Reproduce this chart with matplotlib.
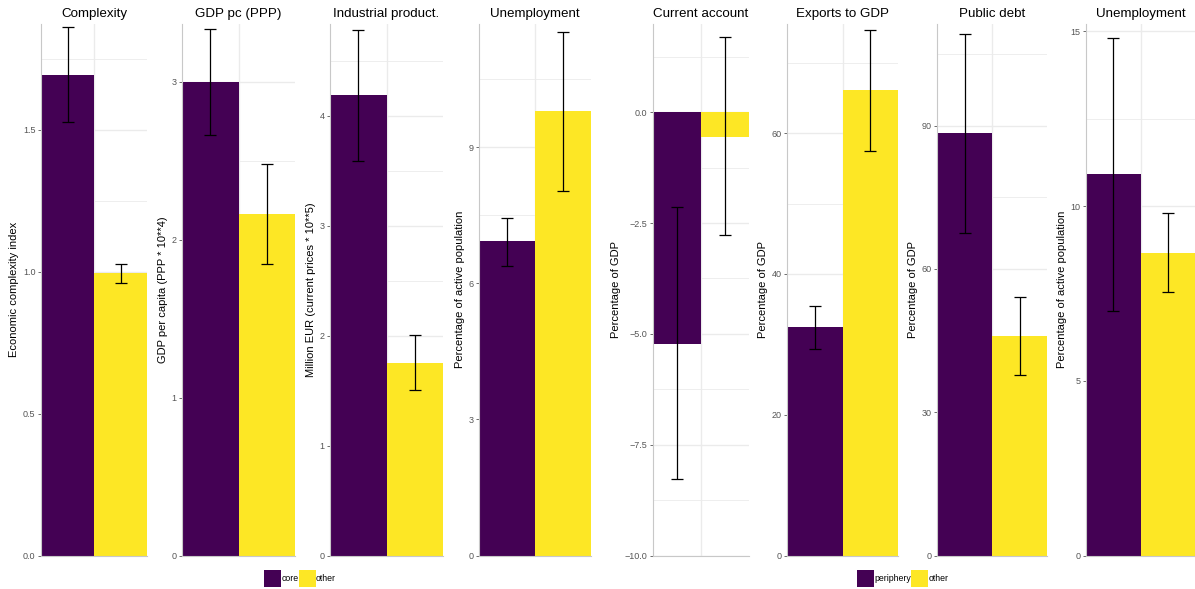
import matplotlib.pyplot as plt
import numpy as np
from matplotlib.patches import Patch

plt.rcParams['font.family'] = ['Liberation Sans', 'DejaVu Sans']

# Panel titles and y axis labels
titles = ['Complexity', 'GDP pc (PPP)', 'Industrial product.', 'Unemployment',
          'Current account', 'Exports to GDP', 'Public debt', 'Unemployment']
ylabels = ['Economic complexity index', 'GDP per capita (PPP * 10**4)',
           'Million EUR (current prices * 10**5)', 'Percentage of active population',
           'Percentage of GDP', 'Percentage of GDP', 'Percentage of GDP',
           'Percentage of active population']

# first group: core vs other, second group: periphery vs other
group_labels = [['core', 'other'], ['periphery', 'other']]

# bar heights
first_vals = [1.695, 3.00, 4.19, 6.92, -5.22, 32.4, 88.5, 10.92]
other_vals = [0.995, 2.165, 1.755, 9.80, -0.55, 66.1, 46.0, 8.67]

# error bar ranges (low, high)
first_lo = [1.527, 2.663, 3.59, 6.37, -8.27, 29.3, 67.5, 6.99]
first_hi = [1.862, 3.335, 4.78, 7.43, -2.14, 35.4, 109.3, 14.82]
other_lo = [0.961, 1.844, 1.506, 8.04, -2.78, 57.4, 37.9, 7.54]
other_hi = [1.028, 2.482, 2.004, 11.53, 1.69, 74.7, 54.1, 9.79]

# y ticks and limits per panel
yticks = [[0, 0.5, 1.0, 1.5], [0, 1, 2, 3], [0, 1, 2, 3, 4], [0, 3, 6, 9],
          [-10, -7.5, -5, -2.5, 0], [0, 20, 40, 60], [0, 30, 60, 90], [0, 5, 10, 15]]
decimals = [1, 0, 0, 0, 1, 0, 0, 0]
ylims = [(0, 1.873), (0, 3.367), (0, 4.836), (0, 11.71),
         (-10, 1.99), (0, 75.5), (0, 111.3), (0, 15.21)]

purple = '#440154'
yellow = '#FDE725'
grid_col = '#EBEBEB'

W, H = 1195, 589
fig = plt.figure(figsize=(W / 100, H / 100), dpi=100)

# panel left/right edges in pixels
edges = [(41, 147), (182, 295), (330, 443), (479, 591),
         (653, 749), (787, 898), (937, 1047), (1086, 1195)]
top_px, bot_px = 24, 555.5

for i in range(8):
    x0, x1 = edges[i]
    ax = fig.add_axes([x0 / W, (H - bot_px) / H, (x1 - x0) / W, (bot_px - top_px) / H])
    vals = np.array([first_vals[i], other_vals[i]])
    lo = np.array([first_lo[i], other_lo[i]])
    hi = np.array([first_hi[i], other_hi[i]])
    xs = np.array([0, 1])
    ax.bar(xs, vals, width=1.0, color=[purple, yellow], zorder=2, linewidth=0)
    ax.errorbar(xs, vals, yerr=[vals - lo, hi - vals],
                fmt='none', ecolor='black', elinewidth=0.9, capsize=4, capthick=0.9,
                zorder=3)
    ax.set_xlim(-0.5, 1.5)
    ax.set_ylim(*ylims[i])

    # grid: major ticks, minor midpoints, vertical center line
    t = yticks[i]
    step = t[1] - t[0]
    ax.set_yticks(t)
    ax.set_yticklabels([f'{v:.{decimals[i]}f}'.replace('-', '\u2212') for v in t])
    minors = np.arange(t[0] + step / 2, ylims[i][1], step)
    ax.set_yticks(minors, minor=True)
    ax.set_xticks([0.5])
    ax.set_xticklabels([])
    ax.grid(True, which='major', axis='both', color=grid_col, linewidth=1.0, zorder=0)
    ax.grid(True, which='minor', axis='y', color=grid_col, linewidth=0.6, zorder=0)
    ax.set_axisbelow(True)

    ax.tick_params(axis='y', which='major', length=2.5, width=0.6, color='#555555',
                   labelsize=6.5, labelcolor='#555555', pad=1.5)
    ax.tick_params(axis='y', which='minor', length=0)
    ax.tick_params(axis='x', length=0)

    for s in ['top', 'right']:
        ax.spines[s].set_visible(False)
    for s in ['left', 'bottom']:
        ax.spines[s].set_color('#C8C8C8')
        ax.spines[s].set_linewidth(0.8)

    ax.set_title(titles[i], fontsize=9.6, pad=5)
    ax.set_ylabel(ylabels[i], fontsize=8, labelpad=2.5)

# legends for the two groups
for g, cx in enumerate([300, 903]):
    handles = [Patch(facecolor=purple, label=group_labels[g][0]),
               Patch(facecolor=yellow, label=group_labels[g][1])]
    fig.legend(handles=handles, loc='center', bbox_to_anchor=(cx / W, (H - 578.5) / H),
               ncol=2, frameon=False, fontsize=6.3, handlelength=1.95, handleheight=2.6,
               handletextpad=0.05, columnspacing=0.0, borderpad=0, borderaxespad=0)

plt.savefig('out.png', dpi=100)
